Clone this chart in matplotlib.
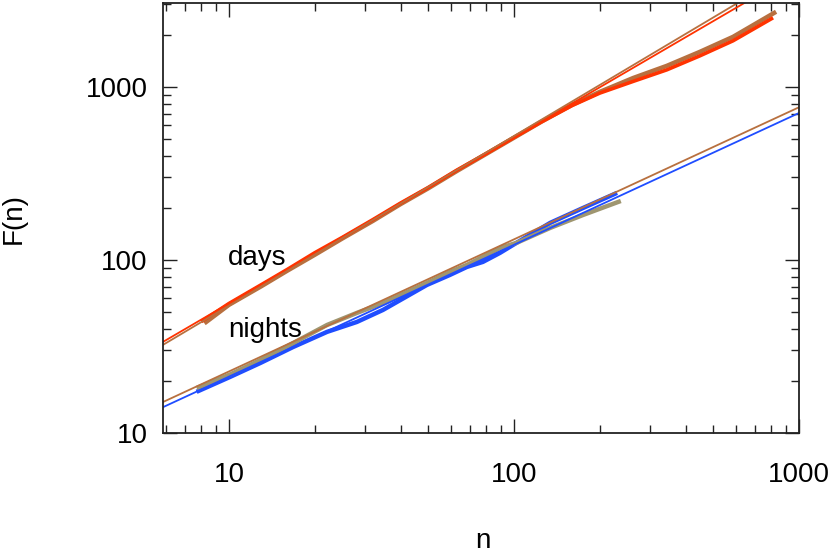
import matplotlib
matplotlib.use("Agg")
import matplotlib.pyplot as plt
from matplotlib.ticker import LogLocator, NullFormatter, FixedLocator

plt.rcParams["font.family"] = ["Liberation Sans", "DejaVu Sans"]

# days: data curves (thick) and power-law fits (thin, drawn between endpoints)
days_n_red = [8, 10, 13, 16, 20, 25, 32, 40, 50, 63, 80, 100, 125, 160, 200, 262, 344, 449, 587, 811]
days_F_red = [44, 56, 72, 88, 110, 135, 171, 213, 262, 330, 412, 510, 628, 780, 920, 1075, 1254, 1510, 1845, 2505]
days_n_brown = [8.2, 10, 13, 16, 20, 25, 32, 40, 50, 63, 80, 100, 125, 160, 200, 262, 344, 449, 587, 831]
days_F_brown = [43, 55, 70.5, 86.5, 107, 133, 168, 210, 259, 326, 410, 508, 630, 787, 935, 1125, 1323, 1593, 1945, 2714]
days_fit_red_n = [5.87, 1000]
days_fit_red_F = [33.6, 4660]
days_fit_brown_n = [5.87, 1000]
days_fit_brown_F = [32.3, 4960]

# nights
nights_n_blue = [7.7, 10.1, 12.9, 16.8, 22.1, 28.1, 34.7, 49.5, 59.6, 68.4, 77.8, 89.3, 102, 134, 175, 230]
nights_F_blue = [17.3, 21.1, 25.4, 31.4, 38.4, 43.8, 51.4, 71.7, 81.9, 91.1, 97.4, 109.8, 125.4, 163.7, 199.8, 244]
nights_n_olive = [7.7, 10.1, 12.9, 16.8, 22.1, 28.1, 34.7, 49.5, 59.6, 68.4, 77.8, 89.3, 102, 134, 175, 237]
nights_F_olive = [18.2, 21.8, 26.4, 33.1, 42.1, 49.4, 56.4, 73.6, 85.2, 93.6, 104.1, 117.3, 125.4, 153.1, 182, 219]
nights_fit_blue_n = [5.87, 1000]
nights_fit_blue_F = [14.1, 706]
nights_fit_brown_n = [5.87, 1000]
nights_fit_brown_F = [15.1, 762]

RED = "#ff3300"
BROWN = "#b8703f"
OLIVE = "#9f9670"
BLUE = "#1f4dff"

fig = plt.figure(figsize=(8.34, 5.54), dpi=100)
fig.patch.set_facecolor("white")
ax = fig.add_axes([163 / 834, 121 / 554, 636 / 834, 430 / 554])

# thick data curves
ax.plot(days_n_brown, days_F_brown, color=BROWN, lw=3.2, solid_capstyle="butt")
ax.plot(days_n_red, days_F_red, color=RED, lw=2.6, solid_capstyle="butt")
ax.plot(nights_n_blue, nights_F_blue, color=BLUE, lw=3.2, solid_capstyle="butt")
ax.plot(nights_n_olive, nights_F_olive, color=OLIVE, lw=3.2, solid_capstyle="butt")

# thin fit lines
ax.plot(days_fit_red_n, days_fit_red_F, color=RED, lw=1.3)
ax.plot(days_fit_brown_n, days_fit_brown_F, color=BROWN, lw=1.3)
ax.plot(nights_fit_blue_n, nights_fit_blue_F, color=BLUE, lw=1.3)
ax.plot(nights_fit_brown_n, nights_fit_brown_F, color=BROWN, lw=1.3)

ax.set_xscale("log")
ax.set_yscale("log")
ax.set_xlim(5.87, 1000)
ax.set_ylim(10, 3050)

ax.xaxis.set_major_locator(FixedLocator([10, 100, 1000]))
ax.yaxis.set_major_locator(FixedLocator([10, 100, 1000]))
ax.xaxis.set_minor_locator(LogLocator(base=10, subs=range(2, 10)))
ax.yaxis.set_minor_locator(LogLocator(base=10, subs=range(2, 10)))
ax.xaxis.set_minor_formatter(NullFormatter())
ax.yaxis.set_minor_formatter(NullFormatter())
ax.set_xticklabels(["10", "100", "1000"])
ax.set_yticklabels(["10", "100", "1000"])

ax.tick_params(which="both", direction="in", top=True, right=True, color="#222222", width=1.0)
ax.tick_params(which="major", length=10)
ax.tick_params(which="minor", length=5.5)
ax.tick_params(axis="x", which="major", labelsize=20, pad=21)
ax.tick_params(axis="y", which="major", labelsize=20, pad=11)
for s in ax.spines.values():
    s.set_color("#222222")
    s.set_linewidth(1.3)

ax.set_xlabel("n", fontsize=20)
ax.set_ylabel("F(n)", fontsize=20)
ax.xaxis.set_label_coords(0.503, -0.22)
ax.yaxis.set_label_coords(-0.215, 0.5)

ax.text(12.6, 103, "days", fontsize=20, ha="center", va="center")
ax.text(13.4, 39.4, "nights", fontsize=20, ha="center", va="center")

fig.savefig("out.png", dpi=100, facecolor="white")
